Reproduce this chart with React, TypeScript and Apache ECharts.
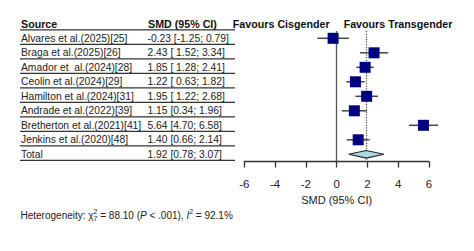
import React, { useEffect, useRef } from "react";
import * as echarts from "echarts";

const studies = [
  "Alvares et al.(2025)[25]",
  "Braga et al.(2025)[26]",
  "Amador et  al.(2024)[28]",
  "Ceolin et al.(2024)[29]",
  "Hamilton et al.(2024)[31]",
  "Andrade et al.(2022)[39]",
  "Bretherton et al.(2021)[41]",
  "Jenkins et al.(2020)[48]",
];
const ciLabels = [
  "-0.23 [-1.25; 0.79]",
  "2.43 [ 1.52; 3.34]",
  "1.85 [ 1.28; 2.41]",
  "1.22 [ 0.63; 1.82]",
  "1.95 [ 1.22; 2.68]",
  "1.15 [0.34; 1.96]",
  "5.64 [4.70; 6.58]",
  "1.40 [0.66; 2.14]",
];
const smd = [-0.23, 2.43, 1.85, 1.22, 1.95, 1.15, 5.64, 1.4];
const lower = [-1.25, 1.52, 1.28, 0.63, 1.22, 0.34, 4.7, 0.66];
const upper = [0.79, 3.34, 2.41, 1.82, 2.68, 1.96, 6.58, 2.14];
const totalLabel = "Total";
const totalCI = "1.92 [0.78; 3.07]";
const totalValues = [1.92, 0.78, 3.07]; // estimate, lower, upper
const xMin = -6;
const xMax = 6;
const xStep = 2;

const FONT = "'Liberation Sans', Arial, sans-serif";

export default function App() {
  const ref = useRef<HTMLDivElement>(null);

  useEffect(() => {
    if (!ref.current) return;
    const chart = echarts.init(ref.current, null, { renderer: "svg" });
    const rows = [...studies, totalLabel];
    const cis = [...ciLabels, totalCI];
    const totalIdx = rows.length - 1;

    const gridLeft = 244.3;
    const gridTop = 31.05;
    const gridHeight = 130.5;
    const gridWidth = 184.7;
    const tableX = 21;
    const ciX = 147.5;

    chart.setOption({
      animation: false,
      backgroundColor: "#ffffff",
      grid: {
        left: gridLeft,
        top: gridTop,
        width: gridWidth,
        height: gridHeight,
        containLabel: false,
      },
      xAxis: {
        type: "value",
        min: xMin,
        max: xMax,
        interval: xStep,
        axisLine: { show: true, onZero: false, lineStyle: { color: "#333", width: 1.3 } },
        axisTick: { show: true, length: 6, lineStyle: { color: "#333", width: 1.3 } },
        splitLine: { show: false },
        axisLabel: { color: "#222", fontSize: 11.5, fontFamily: FONT, margin: 16 },
        name: "SMD (95% CI)",
        nameLocation: "middle",
        nameGap: 32,
        nameTextStyle: { color: "#222", fontSize: 11, fontFamily: FONT },
      },
      yAxis: {
        type: "value",
        inverse: true,
        min: -0.5,
        max: rows.length - 0.5,
        show: false,
        axisLine: { onZero: false },
        splitLine: { show: false },
      },
      series: [
        {
          type: "custom",
          z: 1,
          data: studies.map((_, i) => [lower[i], i, upper[i]]),
          renderItem: (params: any, api: any) => {
            const p1 = api.coord([api.value(0), api.value(1)]);
            const p2 = api.coord([api.value(2), api.value(1)]);
            return {
              type: "line",
              shape: { x1: p1[0], y1: p1[1], x2: p2[0], y2: p2[1] },
              style: { stroke: "#444", lineWidth: 1.5 },
            };
          },
          markLine: {
            silent: true,
            symbol: "none",
            label: { show: false },
            data: [
              { xAxis: 0, lineStyle: { type: "solid", color: "#555", width: 1.3 } },
              { xAxis: totalValues[0], lineStyle: { type: "dotted", color: "#555", width: 1.3 } },
            ],
          },
        },
        {
          type: "scatter",
          z: 5,
          symbol: "rect",
          symbolSize: 11,
          itemStyle: { color: "#000080", opacity: 1 },
          data: smd.map((v, i) => [v, i]),
        },
        {
          type: "custom",
          z: 5,
          data: [[totalValues[1], totalIdx, totalValues[0], totalValues[2]]],
          renderItem: (params: any, api: any) => {
            const y = api.value(1);
            const pl = api.coord([api.value(0), y]);
            const pm = api.coord([api.value(2), y]);
            const pr = api.coord([api.value(3), y]);
            const h = 3.8;
            return {
              type: "polygon",
              shape: {
                points: [
                  [pl[0], pl[1]],
                  [pm[0], pm[1] - h],
                  [pr[0], pr[1]],
                  [pm[0], pm[1] + h],
                ],
              },
              style: { fill: "#add8e6", stroke: "#222", lineWidth: 1.1 },
            };
          },
        },
      ],
    });

    const yOf = (i: number) => chart.convertToPixel({ gridIndex: 0 }, [0, i])[1];
    const x0 = chart.convertToPixel({ gridIndex: 0 }, [0, 0])[0];
    const band = yOf(1) - yOf(0);
    const headerY = yOf(0) - band;

    const els: any[] = [];
    for (let i = -1; i < rows.length; i++) {
      const yy = yOf(0) + band * i + 6;
      els.push({
        type: "line",
        shape: { x1: 20, y1: yy, x2: 235, y2: yy },
        style: { stroke: "#333", lineWidth: 1.3 },
      });
    }
    const bodyStyle = { fontSize: 10.3, fontFamily: FONT, fill: "#222", verticalAlign: "middle", align: "left" };
    rows.forEach((r, i) => {
      els.push({ type: "text", x: tableX, y: yOf(i), style: { ...bodyStyle, text: r } });
      els.push({ type: "text", x: ciX, y: yOf(i), style: { ...bodyStyle, text: cis[i] } });
    });

    const headStyle = { fontSize: 10.7, fontWeight: "bold", fontFamily: FONT, fill: "#111", verticalAlign: "middle" };

    chart.setOption({
      graphic: [
        ...els,
        { type: "text", x: tableX, y: headerY, style: { ...headStyle, text: "Source", align: "left" } },
        { type: "text", x: 148, y: headerY, style: { ...headStyle, text: "SMD (95% CI)", align: "left" } },
        { type: "text", x: x0 - 7, y: headerY, style: { ...headStyle, text: "Favours Cisgender", align: "right" } },
        { type: "text", x: x0 + 7, y: headerY, style: { ...headStyle, text: "Favours Transgender", align: "left" } },
        {
          type: "text",
          x: 20.5,
          y: 215,
          style: {
            text:
              "{t|Heterogeneity: χ}{sb|7}{sp|2}{t| = 88.10 (}{i|P}{t| < .001), }{i|I}{sp|2}{t| = 92.1%}",
            verticalAlign: "middle",
            align: "left",
            rich: {
              t: { fontSize: 10, fontFamily: FONT, fill: "#222", lineHeight: 14 },
              i: { fontSize: 10, fontFamily: FONT, fill: "#222", fontStyle: "italic", lineHeight: 14 },
              sp: { fontSize: 7, fontFamily: FONT, fill: "#222", verticalAlign: "top", lineHeight: 9 },
              sb: { fontSize: 7, fontFamily: FONT, fill: "#222", verticalAlign: "bottom", lineHeight: 9, width: 0, align: "left" },
            },
          },
        },
      ],
    });

    return () => chart.dispose();
  }, []);

  return (
    <div
      ref={ref}
      style={{ position: "absolute", left: 0, top: 0, width: 474, height: 251, background: "#fff" }}
    />
  );
}
